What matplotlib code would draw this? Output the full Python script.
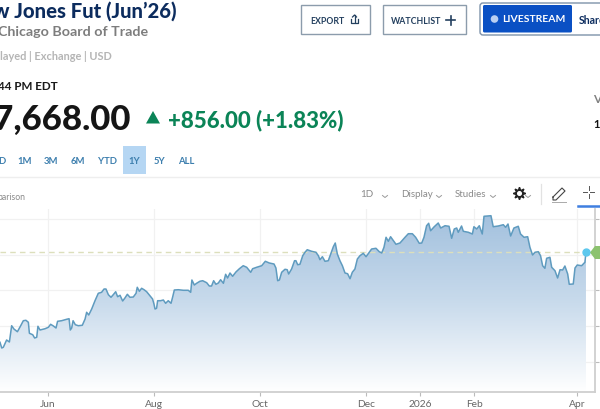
import numpy as np
import matplotlib
matplotlib.use("Agg")
import matplotlib.pyplot as plt
from matplotlib.patches import Rectangle, Polygon, FancyBboxPatch, Circle
from matplotlib.colors import LinearSegmentedColormap

plt.rcParams['font.family'] = ['Lato', 'DejaVu Sans']

# days since 1 Jun 2025
days = [-27.6,-26.6,-25.7,-23.8,-22.2,-20.9,-19.6,-17.6,-15.7,-14.2,-12.7,-11.3,-10.7,-8.8,-7.7,-6.5,-5.8,-4.6,-1.7,0.2,
1.5,3.1,4.6,5.5,7.8,10.7,12.1,12.8,13.6,14.4,15.7,17.4,19.7,21.3,22.2,23.4,25.1,27.0,28.9,30.8,
32.2,33.3,34.7,36.2,37.5,38.9,40.0,41.4,42.9,44.2,45.6,47.1,49.0,50.6,51.3,52.5,53.8,55.2,56.7,58.6,
60.1,60.9,61.5,62.4,63.0,64.7,66.3,67.6,69.1,70.7,71.6,72.6,74.9,77.8,80.6,82.0,82.7,84.1,85.4,87.3,
88.9,91.2,92.7,94.0,95.2,96.5,97.9,99.2,100.8,102.1,103.2,104.6,106.1,108.0,110.0,112.2,114.2,116.5,117.6,119.9,
122.8,124.9,127.2,129.9,131.0,132.0,133.0,134.3,136.2,137.5,138.3,140.0,141.7,142.5,143.5,144.8,
146.4,147.7,149.0,151.5,154.0,155.4,156.3,157.7,159.2,161.1,162.5,164.0,165.1,166.3,167.8,169.2,170.7,172.2,173.6,174.9,
176.4,177.8,179.3,181.2,182.8,184.5,186.0,188.5,190.4,191.8,193.1,194.3,195.6,196.9,198.5,200.0,202.3,205.2,207.1,209.4,
211.3,213.4,214.8,216.1,217.6,218.8,219.9,222.0,224.3,225.7,228.2,230.5,232.0,233.5,234.9,235.8,237.7,238.7,241.6,243.9,
244.8,246.4,247.9,249.6,250.6,252.5,254.6,255.9,258.8,261.7,263.0,264.4,265.9,267.8,270.3,271.6,273.6,275.7,277.0,278.5,
279.9,281.8,283.1,284.3,285.6,286.6,288.5,289.5,291.4,292.9,294.3,295.8,297.1,298.7,299.6,301.9,302.9,304.2,306.7,308.6,309.2]

prices = [41370,40970,41020,41530,41390,42530,42300,42110,42530,42880,42910,42770,42000,41900,41670,41720,42490,42230,42320,42420,
42630,42510,42370,42840,42880,42980,43020,42230,42370,42880,42600,42530,42560,43000,43470,43280,43700,44280,44800,44870,
45100,45100,44700,44520,44700,44910,44560,44660,44260,44470,44730,44520,44540,44800,45220,44940,45150,45050,44910,44630,
44400,44050,43700,43750,44280,44280,44330,44100,44280,44100,44520,45030,45050,45010,45010,44870,45730,45380,45500,45640,
45680,45540,45310,45310,45680,45430,45520,45750,45500,46130,45870,46220,45990,46290,46520,46730,46620,46270,46520,46620,
46730,47040,46920,46850,46570,45680,45730,46270,46480,46450,46150,46500,47080,47080,46800,46830,
47430,47670,47850,47740,47670,47430,47150,47360,47040,47080,47550,48060,48320,47550,47080,46730,46220,46170,45820,46270,
46500,47200,47430,47600,47360,47640,47900,47950,47710,47620,48020,48720,48440,48760,48480,48230,48320,48720,48970,48970,
48720,48300,48320,48720,49530,49700,49180,49460,49720,49370,49530,49490,48650,49300,49370,49070,49510,49140,49070,48950,
49460,49300,49530,48950,50190,50210,50230,49460,49510,49600,49420,49650,48810,49370,49490,48950,48720,48760,48020,47480,
47670,47710,47430,46730,46550,47250,47320,46620,46380,45870,46450,46430,46710,46150,45430,45450,46570,46780,46730,46970,47668]

x_tick_days = [0, 61, 122, 183, 214, 245, 304]
x_tick_labels = ['Jun', 'Aug', 'Oct', 'Dec', '2026', 'Feb', 'Apr']
y_ticks = [40000, 42500, 45000, 47500, 50000]
y_tick_labels = ['40,000.00', '42,500.00', '45,000.00', '47,500.00', '50,000.00']
last_price = 47668
range_tabs = ['D', '1M', '3M', '6M', 'YTD', '1Y', '5Y', 'ALL']

W, H = 600, 410
fig = plt.figure(figsize=(6, 4.1), dpi=100, facecolor='white')

# chart axes: px 0..595 horizontally, 210..393 vertically
ax = fig.add_axes([0, (H-393)/H, 595/W, (393-210)/H])
ax.set_facecolor('white')
for s in ['top', 'left']:
    ax.spines[s].set_visible(False)
for s in ['bottom', 'right']:
    ax.spines[s].set_color('#cfcfcf')
    ax.spines[s].set_linewidth(1.3)
ax.yaxis.tick_right()
ax.set_xticks(x_tick_days, x_tick_labels)
ax.set_yticks(y_ticks, y_tick_labels)
ax.tick_params(axis='x', length=3, width=0.8, color='#bbbbbb', labelsize=7.4, labelcolor='#666666', pad=2)
ax.tick_params(axis='y', length=3, width=0.8, color='#bbbbbb', labelsize=7.2, labelcolor='#666666', pad=1)
ax.grid(True, color='#f1f1f1', linewidth=0.9)
ax.set_axisbelow(True)

cmap = LinearSegmentedColormap.from_list('g', ['#a3c1de', '#c9dbec', '#ffffff'])
grad = np.linspace(0, 1, 256).reshape(-1, 1)
ymax_g = 50230
im = ax.imshow(grad, extent=[days[0], days[-1], 37890, ymax_g], aspect='auto', cmap=cmap, zorder=1.5, origin='upper')
clip = Polygon(list(zip(days, prices)) + [(days[-1], 37890), (days[0], 37890)], closed=True,
               transform=ax.transData, facecolor='none', edgecolor='none')
ax.add_patch(clip)
im.set_clip_path(clip)
ax.set_xlim(-27.6, 314.4)
ax.set_ylim(37890, 50700)

ax.axhline(last_price, color='#dcdfbc', lw=1.0, ls=(0, (4, 3)), zorder=1.8)
ax.plot(days, prices, color='#5f9bbf', lw=1.1, zorder=3, solid_joinstyle='round')
ax.plot([days[-1]], [last_price], 'o', color='#5cc8ee', ms=5, zorder=4)

# page chrome, in pixel coordinates
ui = fig.add_axes([0, 0, 1, 1], facecolor='none')
ui.set_xlim(0, W)
ui.set_ylim(H, 0)
ui.axis('off')

NAVY = '#0c2c5e'
GREEN = '#0b8457'
TAB = '#3d7fae'

ui.add_patch(Polygon([(590, 253.5), (595, 247), (600, 247), (600, 260), (595, 260)], closed=True, fc='#8cc26f', ec='none', zorder=5))

ui.text(176, 11, 'Dow Jones Fut (Jun\u201926)', ha='right', va='center', fontsize=14.6, fontweight='black', color=NAVY)
ui.text(148, 32, 'Chicago Board of Trade', ha='right', va='center', fontsize=10.3, fontweight='bold', color='#7d7d7d')
ui.text(112, 56.5, 'delayed | Exchange | USD', ha='right', va='center', fontsize=7.9, fontweight='bold', color='#b5b5b5')
ui.text(58, 87, ':44 PM EDT', ha='right', va='center', fontsize=8.4, fontweight='bold', color='#1a1a1a')
ui.text(131, 120, '47,668.00', ha='right', va='center', fontsize=25, fontweight='black', color='#151515')
ui.add_patch(Polygon([(146, 124.5), (160, 124.5), (153, 112)], closed=True, fc=GREEN, ec='none'))
ui.text(168, 120.5, '+856.00 (+1.83%)', ha='left', va='center', fontsize=16, fontweight='black', color=GREEN)

# range tabs
ui.add_patch(Rectangle((123, 147), 23, 28, fc='#b5d6f3', ec='none'))
for label, xc in zip(range_tabs, [2, 25, 51, 78, 107.5, 134.5, 159, 186]):
    ui.text(xc, 162, label, ha='center', va='center', fontsize=6.8, fontweight='bold', color=TAB)
ui.plot([0, 600], [178, 178], color='#eeeeee', lw=1)
ui.text(25, 198, 'parison', ha='right', va='center', fontsize=6.2, color='#8a8a8a')

# buttons
ui.add_patch(Rectangle((300.5, 6), 69, 29, fc='white', ec='#8c9cac', lw=1))
ui.text(327, 21, 'EXPORT', ha='center', va='center', fontsize=6.3, fontweight='bold', color='#24405f')
ui.plot([351, 351, 358, 358], [20, 24, 24, 20], color='#24405f', lw=0.9)
ui.plot([354.5, 354.5], [23, 16], color='#24405f', lw=0.9)
ui.plot([352.5, 354.5, 356.5], [18, 16, 18], color='#24405f', lw=0.9)
ui.add_patch(Rectangle((383, 6), 83, 29, fc='white', ec='#8c9cac', lw=1))
ui.text(416, 21, 'WATCHLIST', ha='center', va='center', fontsize=6.3, fontweight='bold', color='#24405f')
ui.plot([446, 455], [21, 21], color='#24405f', lw=1.2)
ui.plot([451, 451], [16.5, 25.5], color='#24405f', lw=1.2)
ui.add_patch(FancyBboxPatch((480, 4), 130, 32, boxstyle='round,pad=0,rounding_size=3', fc='white', ec='#7d92aa', lw=1))
ui.add_patch(FancyBboxPatch((483, 6), 89, 27.5, boxstyle='round,pad=0,rounding_size=1.5', fc='#0a50c4', ec='none'))
ui.add_patch(Circle((494.5, 20), 3.8, fc='#b9cff2', ec='none'))
ui.text(502, 20, 'LIVESTREAM', ha='left', va='center', fontsize=7.5, fontweight='bold', color='white')
ui.text(579, 20, 'Share', ha='left', va='center', fontsize=7.6, fontweight='bold', color=NAVY)
ui.text(593, 99.5, 'Volume', ha='left', va='center', fontsize=8.5, fontweight='bold', color='#808080')
ui.text(593, 123.5, '15,000', ha='left', va='center', fontsize=8, fontweight='bold', color='#111111')

# chart toolbar
for label, xc in [('1D', 367), ('Display', 417), ('Studies', 470.5)]:
    ui.text(xc, 195, label, ha='center', va='center', fontsize=7, color='#8a8a8a')
for xc in [385, 439, 493, 528]:
    ui.plot([xc-2.5, xc, xc+2.5], [196.5, 198.5, 196.5], color='#9a9a9a', lw=0.7)
ui.plot([518.5], [193.5], marker=(8, 1, 0), ms=9, color='#222222')
ui.plot([518.5], [193.5], 'o', ms=2.6, color='white')
ui.plot([541, 541], [185, 205], color='#e2e2e2', lw=0.9)
ui.plot([553, 562, 565, 556, 553, 553], [198, 189, 192, 201, 201, 198], color='#444444', lw=0.8)
ui.plot([552, 566], [203, 203], color='#aaaaaa', lw=0.7)
for (a, b, c, d) in [(583, 587, 193, 193), (590, 594, 193, 193), (588.5, 588.5, 187, 191), (588.5, 588.5, 195, 199)]:
    ui.plot([a, b], [c, d], color='#555555', lw=0.7)
ui.plot([578, 600], [206.5, 206.5], color='#3f7fe0', lw=1.8)
ui.set_xlim(0, W)
ui.set_ylim(H, 0)

fig.savefig('out.png', dpi=100)
